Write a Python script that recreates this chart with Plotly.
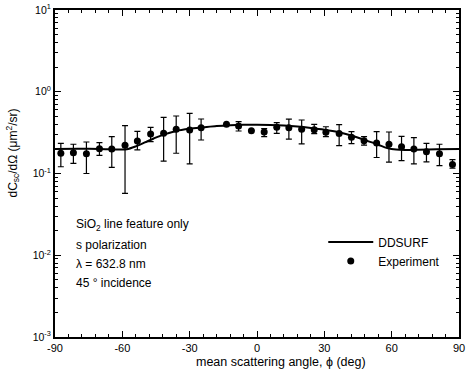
import plotly.graph_objects as go

# Experimental data (mean scattering angle in deg, dCsc/dOmega in um^2/sr)
exp_angle = [-87.4, -81.8, -76.0, -70.2, -64.7, -58.8, -53.3, -47.4, -41.6, -36.0,
             -30.0, -24.9, -13.6, -8.2, -2.5, 3.2, 8.8, 14.2, 19.9, 25.5,
             30.7, 36.6, 42.1, 47.7, 53.3, 58.8, 64.4, 69.9, 75.5, 81.3, 87.1]
exp_val = [0.177, 0.180, 0.175, 0.201, 0.199, 0.221, 0.250, 0.304, 0.310, 0.347,
           0.341, 0.363, 0.400, 0.381, 0.334, 0.322, 0.367, 0.363, 0.347, 0.344,
           0.320, 0.308, 0.277, 0.252, 0.236, 0.228, 0.213, 0.199, 0.185, 0.175, 0.129]
exp_hi = [0.234, 0.228, 0.243, 0.238, 0.282, 0.385, 0.328, 0.367, 0.486, 0.505,
          0.544, 0.464, 0.400, 0.430, 0.334, 0.353, 0.418, 0.462, 0.451, 0.400,
          0.373, 0.397, 0.325, 0.282, 0.325, 0.322, 0.285, 0.274, 0.234, 0.228, 0.148]
exp_lo = [0.121, 0.133, 0.100, 0.167, 0.119, 0.057, 0.194, 0.245, 0.142, 0.177,
          0.131, 0.257, 0.400, 0.331, 0.334, 0.282, 0.310, 0.263, 0.230, 0.308,
          0.282, 0.219, 0.232, 0.223, 0.157, 0.138, 0.144, 0.131, 0.139, 0.125, 0.116]

# DDSURF calculation
calc_angle = [-90, -80, -70, -62, -58, -54, -50, -46, -42, -36, -30, -24, -18, -12, -6,
              0, 6, 12, 18, 24, 30, 36, 42, 48, 54, 58, 62, 66, 72, 80, 90]
calc_val = [0.200, 0.201, 0.200, 0.197, 0.198, 0.215, 0.240, 0.268, 0.297, 0.332, 0.352,
            0.366, 0.380, 0.390, 0.395, 0.396, 0.393, 0.386, 0.375, 0.360, 0.343,
            0.322, 0.292, 0.258, 0.225, 0.205, 0.196, 0.194, 0.195, 0.198, 0.200]

x_ticks = [-90, -60, -30, 0, 30, 60, 90]
y_ticks = [0.001, 0.01, 0.1, 1, 10]
y_ticktext = ["10<sup>-3</sup>", "10<sup>-2</sup>", "10<sup>-1</sup>", "10<sup>0</sup>", "10<sup>1</sup>"]

err_plus = [h - v for h, v in zip(exp_hi, exp_val)]
err_minus = [v - l for v, l in zip(exp_val, exp_lo)]

FONT = "Liberation Sans, Arial, Helvetica, sans-serif"

fig = go.Figure()
fig.add_trace(go.Scatter(
    x=calc_angle, y=calc_val, mode="lines", name="DDSURF",
    line=dict(color="black", width=2, shape="spline", smoothing=0.8),
))
fig.add_trace(go.Scatter(
    x=exp_angle, y=exp_val, mode="markers", name="Experiment",
    marker=dict(color="black", size=7, symbol="circle"),
    error_y=dict(type="data", symmetric=False, array=err_plus, arrayminus=err_minus,
                 color="black", thickness=1.2, width=3),
))

fig.update_layout(
    width=467, height=378,
    margin=dict(l=55, r=2, t=10, b=41),
    paper_bgcolor="white", plot_bgcolor="white",
    font=dict(family=FONT, color="black", size=11),
    legend=dict(x=0.664, y=0.335, xanchor="left", yanchor="top",
                bgcolor="rgba(0,0,0,0)", font=dict(size=12, family=FONT),
                tracegroupgap=0, itemwidth=45),
    showlegend=True,
)
fig.update_xaxes(
    range=[-90, 90], tickvals=x_ticks, ticktext=[str(v) for v in x_ticks],
    ticks="inside", ticklen=6, tickwidth=1, tickcolor="black",
    minor=dict(ticks="inside", ticklen=3, dtick=6, tick0=-90, tickcolor="black", showgrid=False),
    showline=True, linecolor="black", linewidth=2, mirror="ticks",
    showgrid=False, zeroline=False, tickfont=dict(size=11),
    ticklabeloverflow="allow",
)
fig.update_yaxes(
    type="log", range=[-3, 1], tickvals=y_ticks, ticktext=y_ticktext,
    ticks="inside", ticklen=6, tickwidth=1, tickcolor="black",
    minor=dict(ticks="inside", ticklen=3, dtick="D1", tickcolor="black", showgrid=False),
    showline=True, linecolor="black", linewidth=2, mirror="ticks",
    showgrid=False, zeroline=False, tickfont=dict(size=10.5),
)

ann_lines = ["SiO<sub>2</sub> line feature only", "s polarization",
             "λ = 632.8 nm", "45 ° incidence"]
ann_y = [0.3425, 0.281, 0.223, 0.165]
for t, yy in zip(ann_lines, ann_y):
    fig.add_annotation(text=t, xref="paper", yref="paper", x=0.046, y=yy,
                       xanchor="left", yanchor="middle", showarrow=False,
                       font=dict(size=12, family=FONT))

fig.add_annotation(text="mean scattering angle, ϕ (deg)", xref="paper", yref="paper",
                   x=0.5585, y=-0.077, xanchor="center", yanchor="middle",
                   showarrow=False, font=dict(size=12.5, family=FONT))
fig.add_annotation(text="dC<sub>sc</sub>/dΩ (μm<sup>2</sup>/sr)", xref="paper", yref="paper",
                   x=-0.105, y=0.563, xanchor="center", yanchor="middle", textangle=-90,
                   showarrow=False, font=dict(size=12, family=FONT))

fig.write_html("out.html")
